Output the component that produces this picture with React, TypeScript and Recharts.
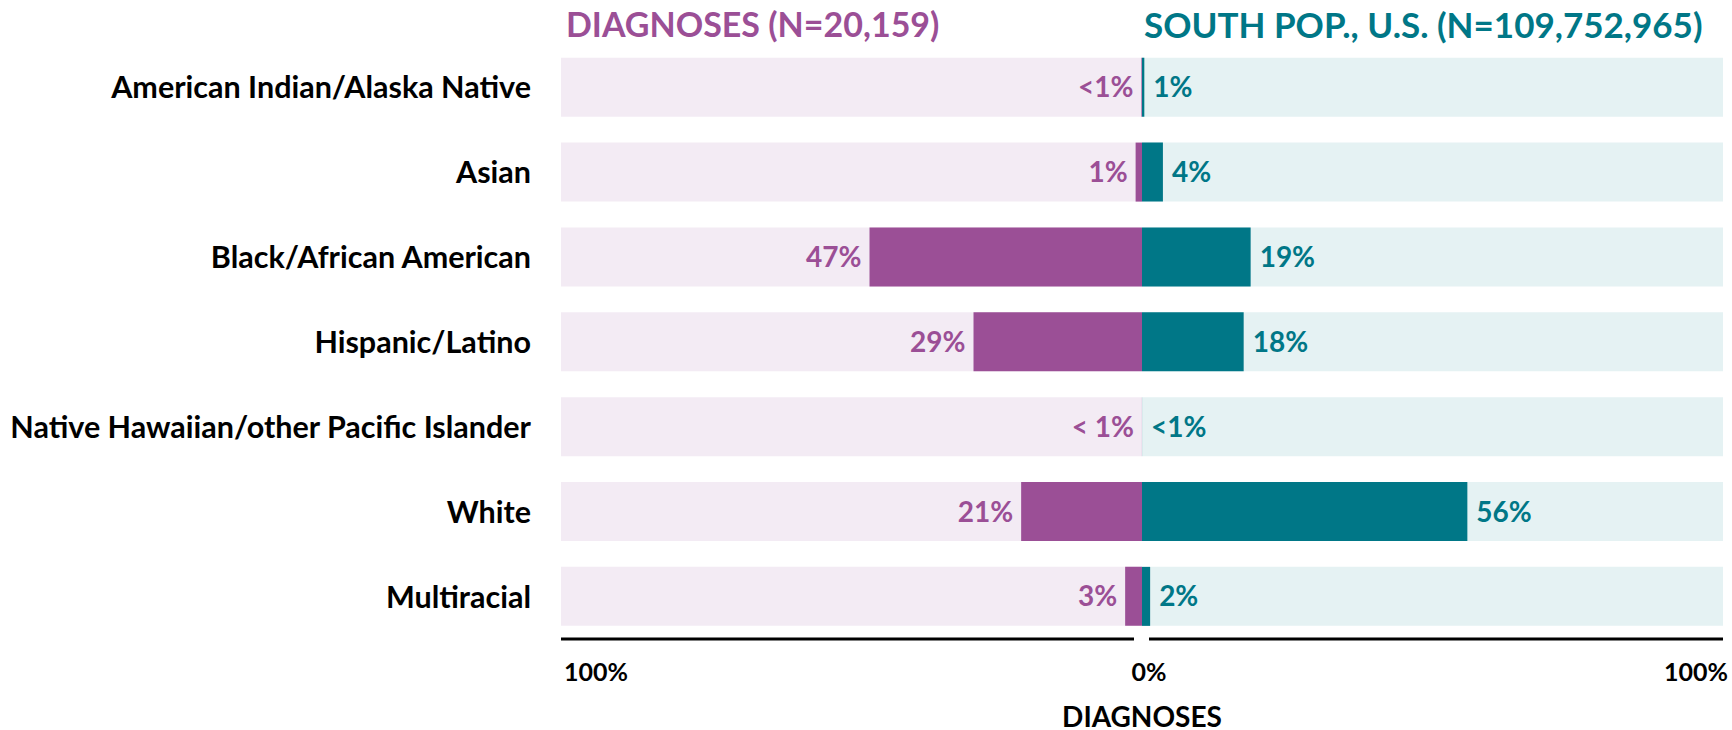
import { BarChart, Bar, XAxis, YAxis, LabelList } from "recharts";

const categories = [
  "American Indian/Alaska Native",
  "Asian",
  "Black/African American",
  "Hispanic/Latino",
  "Native Hawaiian/other Pacific Islander",
  "White",
  "Multiracial",
];
const diagnosesPct = [0.1, 1.1, 46.9, 29, 0.01, 20.8, 2.9];
const populationPct = [0.4, 3.6, 18.7, 17.5, 0.01, 56, 1.4];
const diagnosesLabels = ["<1%", "1%", "47%", "29%", "< 1%", "21%", "3%"];
const populationLabels = ["1%", "4%", "19%", "18%", "<1%", "56%", "2%"];
const leftTicks = [100];
const rightTicks = [0, 100];

const PURPLE = "#9B4F96";
const PURPLE_BG = "#F3EBF4";
const TEAL = "#007787";
const TEAL_BG = "#E5F2F3";
const FONT = "Lato, 'Open Sans', sans-serif";

const data = categories.map((race, i) => ({
  race,
  diag: diagnosesPct[i],
  pop: populationPct[i],
  diagLabel: diagnosesLabels[i],
  popLabel: populationLabels[i],
}));

function DiagLabel(props: any) {
  const x = Number(props.x);
  const w = Number(props.width);
  const y = Number(props.y) + Number(props.height) / 2;
  return (
    <text x={Math.min(x, x + w) - 8} y={y} dy="0.36em" textAnchor="end" fill={PURPLE} fontSize={28} fontWeight={700} fontFamily={FONT}>
      {props.value}
    </text>
  );
}

function PopLabel(props: any) {
  const x = Number(props.x);
  const w = Number(props.width);
  const y = Number(props.y) + Number(props.height) / 2;
  return (
    <text x={Math.max(x, x + w) + 9} y={y} dy="0.36em" textAnchor="start" fill={TEAL} fontSize={28} fontWeight={700} fontFamily={FONT}>
      {props.value}
    </text>
  );
}

function CategoryTick(props: any) {
  const { x, y, payload } = props;
  return (
    <text x={x} y={y} dy="0.36em" textAnchor="end" fill="#000" fontSize={30.5} fontWeight={700} fontFamily={FONT}>
      {payload.value}
    </text>
  );
}

function LeftTick(props: any) {
  const { x, y, payload } = props;
  return (
    <text x={x + 3} y={y} dy={18} textAnchor="start" fill="#000" fontSize={25} fontWeight={700} fontFamily={FONT}>
      {payload.value}%
    </text>
  );
}

function RightTick(props: any) {
  const { x, y, payload } = props;
  const zero = payload.value === 0;
  return (
    <text x={zero ? x + 7 : x + 5} y={y} dy={18} textAnchor={zero ? "middle" : "end"} fill="#000" fontSize={25} fontWeight={700} fontFamily={FONT}>
      {payload.value}%
    </text>
  );
}

export default function App() {
  return (
    <div style={{ position: "absolute", left: 0, top: 0, width: 1732, height: 730, background: "#fff", fontFamily: FONT, fontWeight: 700 }}>
      <div style={{ position: "absolute", left: 0, top: 0 }}>
        <BarChart width={1142} height={730} data={data} layout="vertical" margin={{ top: 45, right: 0, bottom: 31, left: 0 }} barCategoryGap="15%">
          <XAxis
            type="number"
            domain={[0, 100]}
            reversed
            ticks={leftTicks}
            interval={0}
            height={60}
            axisLine={{ stroke: "#000", strokeWidth: 3, strokeDasharray: "573 40" }}
            tickLine={false}
            tickSize={0}
            tickMargin={24}
            tick={LeftTick}
          />
          <YAxis
            type="category"
            dataKey="race"
            width={561}
            axisLine={false}
            tickLine={false}
            tickSize={0}
            tickMargin={30}
            interval={0}
            tick={CategoryTick}
          />
          <Bar dataKey="diag" fill={PURPLE} background={{ fill: PURPLE_BG }} isAnimationActive={false}>
            <LabelList dataKey="diagLabel" content={DiagLabel} />
          </Bar>
        </BarChart>
      </div>
      <div style={{ position: "absolute", left: 1102, top: 0 }}>
        <BarChart width={630} height={730} data={data} layout="vertical" margin={{ top: 45, right: 9, bottom: 31, left: 40 }} barCategoryGap="15%">
          <XAxis
            type="number"
            domain={[0, 100]}
            ticks={rightTicks}
            interval={0}
            height={60}
            axisLine={{ stroke: "#000", strokeWidth: 3, strokeDasharray: "0 7 600" }}
            tickLine={false}
            tickSize={0}
            tickMargin={24}
            tick={RightTick}
          />
          <YAxis type="category" dataKey="race" hide />
          <Bar dataKey="pop" fill={TEAL} background={{ fill: TEAL_BG }} isAnimationActive={false}>
            <LabelList dataKey="popLabel" content={PopLabel} />
          </Bar>
        </BarChart>
      </div>
      <div style={{ position: "absolute", left: 566, top: 7, color: PURPLE, fontSize: 34, lineHeight: 1, whiteSpace: "nowrap" }}>
        DIAGNOSES (N=20,159)
      </div>
      <div style={{ position: "absolute", left: 1144, top: 7, color: TEAL, fontSize: 35, lineHeight: 1, whiteSpace: "nowrap" }}>
        SOUTH POP., U.S. (N=109,752,965)
      </div>
      <div style={{ position: "absolute", left: 1032, top: 702, width: 220, textAlign: "center", color: "#000", fontSize: 28, lineHeight: 1 }}>
        DIAGNOSES
      </div>
    </div>
  );
}
